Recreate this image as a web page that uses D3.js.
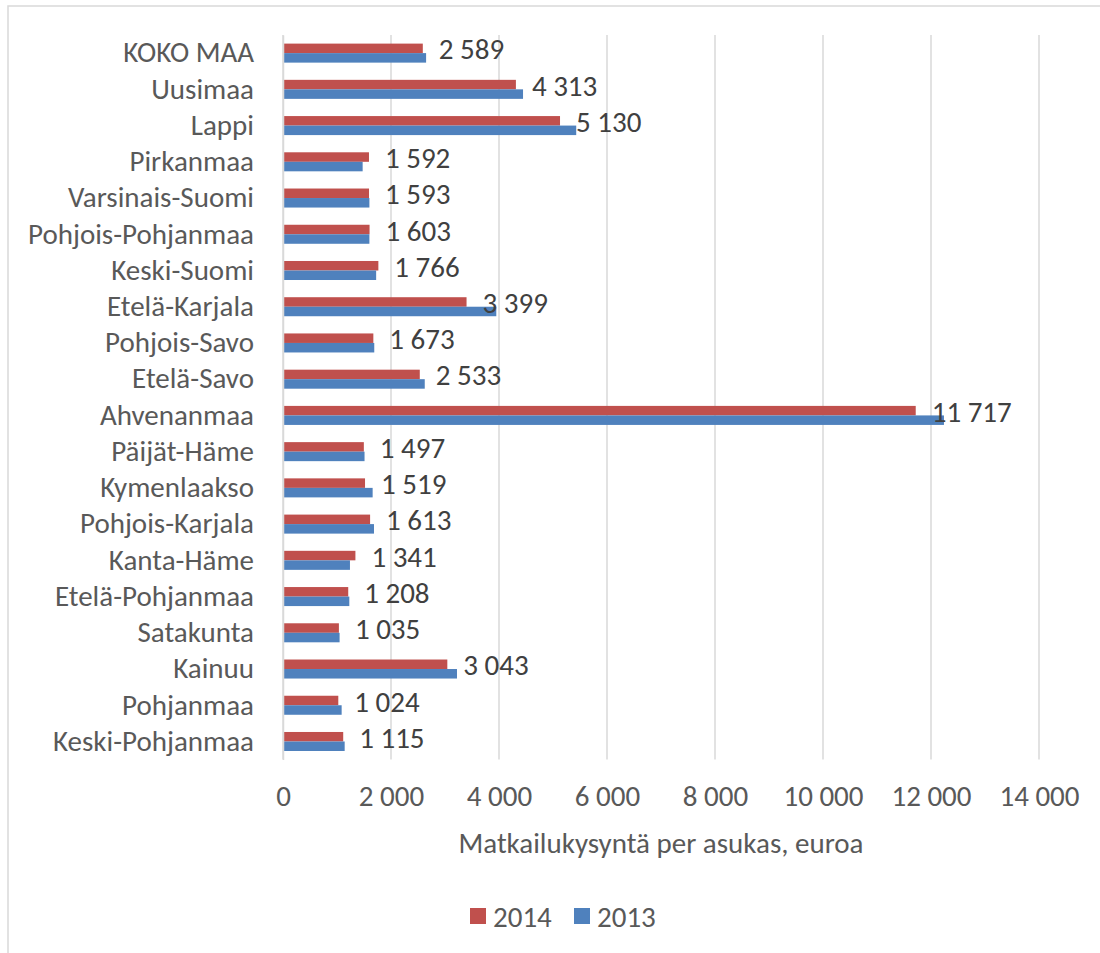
<!DOCTYPE html>
<html>
<head>
<meta charset="utf-8">
<script src="https://cdn.jsdelivr.net/npm/d3@7"></script>
<style>
  body { margin: 0; background: #fff; }
  text { font-family: Carlito, Lato, "Liberation Sans", sans-serif; }
</style>
</head>
<body>
<div id="content"></div>
<script>
// regions, top to bottom
let regions = ['KOKO MAA', 'Uusimaa', 'Lappi', 'Pirkanmaa', 'Varsinais-Suomi', 'Pohjois-Pohjanmaa',
    'Keski-Suomi', 'Etelä-Karjala', 'Pohjois-Savo', 'Etelä-Savo', 'Ahvenanmaa', 'Päijät-Häme',
    'Kymenlaakso', 'Pohjois-Karjala', 'Kanta-Häme', 'Etelä-Pohjanmaa', 'Satakunta', 'Kainuu',
    'Pohjanmaa', 'Keski-Pohjanmaa'];
let values2014 = [2589, 4313, 5130, 1592, 1593, 1603, 1766, 3399, 1673, 2533, 11717, 1497,
    1519, 1613, 1341, 1208, 1035, 3043, 1024, 1115];
// 2013 (no labels in the picture)
let values2013 = [2650, 4445, 5430, 1475, 1600, 1600, 1725, 3950, 1690, 2625, 12240, 1510,
    1660, 1685, 1240, 1228, 1048, 3222, 1086, 1142];
let seriesNames = ['2014', '2013'];
let seriesColors = ['#c0504d', '#4f81bd'];
let xTicks = [0, 2000, 4000, 6000, 8000, 10000, 12000, 14000];
let xTitle = 'Matkailukysyntä per asukas, euroa';

window.addEventListener('load', function () {
    let width = 1100;
    let height = 953;
    let left = 283, right = 1039, top = 35, bottom = 759.6;
    let fontSize = '29px';

    let fmt = v => d3.format(',')(v).replace(/,/g, ' ');

    let xScale = d3.scaleLinear().domain([0, 14000]).range([left, right]);
    let yScale = d3.scaleBand().domain(regions).range([top, bottom])
        .paddingInner(0.475).paddingOuter(0.2375);
    let subScale = d3.scaleBand().domain(seriesNames).range([0, yScale.bandwidth()]);

    let svg = d3.select('#content').append('svg').attr('width', width).attr('height', height);

    // chart border (only top and left edges are in the picture)
    svg.append('path').attr('d', 'M8,953 L8,6 L1100,6')
        .attr('fill', 'none').attr('stroke', '#d9d9d9').attr('stroke-width', 1.5);

    // gridlines
    svg.append('g').selectAll('line').data(xTicks).enter().append('line')
        .attr('x1', d => xScale(d)).attr('x2', d => xScale(d))
        .attr('y1', top).attr('y2', bottom)
        .attr('stroke', '#d9d9d9').attr('stroke-width', 1.5);

    let rows = regions.map((r, i) => ({ region: r, vals: [values2014[i], values2013[i]] }));

    let groups = svg.append('g').selectAll('g').data(rows).enter().append('g')
        .attr('transform', d => `translate(0,${yScale(d.region)})`);

    groups.selectAll('rect').data(d => d.vals.map((v, k) => ({ v: v, k: k }))).enter().append('rect')
        .attr('x', xScale(0))
        .attr('y', d => subScale(seriesNames[d.k]))
        .attr('width', d => xScale(d.v) - xScale(0))
        .attr('height', subScale.bandwidth())
        .attr('fill', d => seriesColors[d.k]);

    // data labels for 2014
    groups.append('text')
        .attr('x', d => xScale(d.vals[0]) + 16)
        .attr('y', subScale('2014') + subScale.bandwidth() / 2 + 1)
        .attr('dominant-baseline', 'central')
        .style('font-size', fontSize).attr('fill', '#404040')
        .text(d => fmt(d.vals[0]));

    // category axis
    let yAxis = d3.axisLeft(yScale).tickSize(0).tickPadding(29);
    let gy = svg.append('g').attr('transform', `translate(${left},0)`).call(yAxis);
    gy.select('.domain').attr('stroke', '#d9d9d9').attr('stroke-width', 1.5);
    gy.selectAll('text').style('font-size', fontSize).attr('fill', '#595959');

    // value axis
    let xAxis = d3.axisBottom(xScale).tickValues(xTicks).tickFormat(fmt).tickSize(0).tickPadding(26);
    let gx = svg.append('g').attr('transform', `translate(0,${bottom})`).call(xAxis);
    gx.select('.domain').remove();
    gx.selectAll('text').style('font-size', fontSize).attr('fill', '#595959');

    svg.append('text').attr('x', (left + right) / 2).attr('y', 843)
        .attr('text-anchor', 'middle').attr('dominant-baseline', 'central')
        .style('font-size', fontSize).attr('fill', '#595959').text(xTitle);

    // legend
    let legendX = [470, 574];
    let legend = svg.append('g').selectAll('g').data(seriesNames).enter().append('g')
        .attr('transform', (d, i) => `translate(${legendX[i]},916)`);
    legend.append('rect').attr('x', 0).attr('y', -8).attr('width', 16).attr('height', 16)
        .attr('fill', (d, i) => seriesColors[i]);
    legend.append('text').attr('x', 23).attr('y', 1).attr('dominant-baseline', 'central')
        .style('font-size', fontSize).attr('fill', '#595959').text(d => d);
});
</script>
</body>
</html>
